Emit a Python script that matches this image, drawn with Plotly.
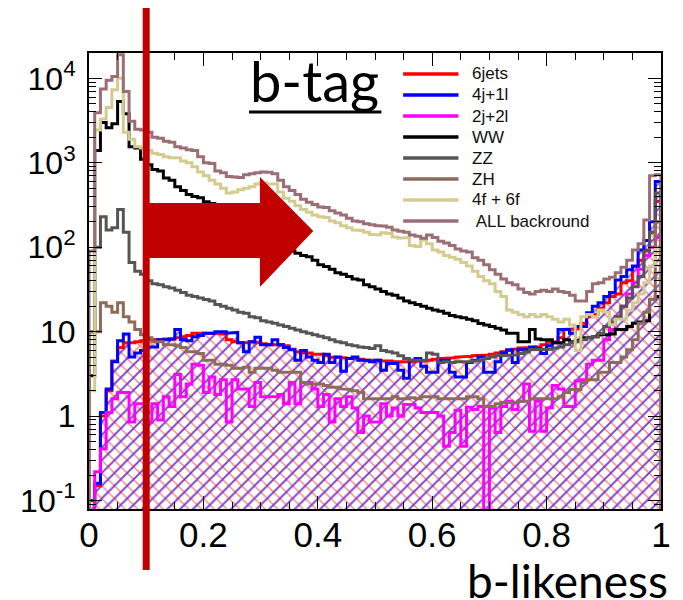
import numpy as np
import plotly.graph_objects as go

# 100 bins of b-likeness in [0, 1]
edges = np.round(np.linspace(0.0, 1.0, 101), 3)

six_jets = [0.05, 0.15, 1.0, 2.0, 4.5, 6.5, 7.4, 7.4, 7.6, 7.8,
            8.0, 8.0, 8.0, 8.2, 8.2, 8.5, 8.7, 9.0, 9.6, 9.6,
            9.6, 9.6, 9.6, 9.4, 8.0, 7.6, 7.4, 7.4, 7.6, 7.4,
            7.2, 7.0, 7.0, 7.0, 6.8, 6.2, 5.8, 5.6, 5.6, 5.4,
            5.4, 5.2, 5.0, 5.0, 4.9, 4.8, 4.8, 4.7, 4.6, 4.6,
            4.6, 4.5, 4.5, 4.4, 4.4, 4.4, 4.4, 4.5, 4.5, 4.6,
            4.7, 4.8, 4.8, 4.9, 5.0, 5.0, 5.1, 5.2, 5.3, 5.3,
            5.4, 5.6, 5.8, 6.0, 6.2, 6.4, 6.4, 6.5, 6.6, 7.0,
            7.5, 7.6, 8.5, 10.6, 10.6, 10.8, 12.6, 15, 16, 19,
            22, 26, 28, 38, 40, 59, 70, 93, 150, 350]

four_j_one_l = [0.1, 0.16, 1.1, 2.1, 4.4, 7.8, 9.4, 5.0, 5.6, 6.0,
                6.6, 6.6, 8.0, 8.0, 8.2, 10.6, 8.0, 7.8, 8.7, 9.0,
                9.6, 9.6, 10.0, 10.0, 9.6, 9.8, 7.4, 5.8, 7.6, 8.6,
                7.0, 7.0, 8.0, 7.0, 6.5, 6.1, 4.6, 6.0, 5.0, 4.6,
                4.3, 5.4, 4.3, 5.0, 3.4, 4.8, 5.0, 4.6, 4.6, 4.4,
                4.6, 3.5, 4.2, 4.2, 3.5, 2.8, 4.6, 4.8, 3.9, 3.3,
                3.3, 4.6, 4.6, 3.3, 2.9, 2.9, 4.3, 4.6, 5.0, 3.3,
                3.3, 4.4, 5.6, 6.1, 4.3, 6.1, 6.1, 6.6, 6.3, 5.5,
                6.8, 7.4, 10.6, 10.6, 9.6, 11.5, 11.5, 16.7, 20, 22,
                26, 29, 41, 45, 54, 60, 93, 120, 200, 600]

two_j_two_l = [0.05, 0.22, 0.41, 1.1, 1.6, 1.9, 1.9, 0.85, 1.4, 1.4,
               0.85, 1.4, 0.9, 1.7, 1.3, 3.1, 1.7, 2.4, 4.1, 4.0,
               1.9, 2.9, 1.8, 2.7, 0.85, 2.7, 2.1, 2.1, 1.3, 2.5,
               1.7, 1.7, 1.7, 1.8, 1.4, 2.5, 1.4, 2.5, 2.5, 2.1,
               1.3, 1.8, 0.85, 1.6, 1.3, 1.7, 1.25, 0.64, 1.0, 0.85,
               0.85, 1.4, 1.0, 1.25, 1.0, 1.37, 1.37, 1.25, 1.1, 1.1,
               1.1, 1.0, 0.44, 0.64, 1.17, 0.44, 1.27, 1.2, 1.3, 0.01,
               1.25, 0.64, 1.3, 1.5, 1.2, 1.5, 2.4, 0.66, 1.5, 0.66,
               1.25, 2.3, 2.1, 1.3, 1.3, 2.6, 2.7, 4.1, 4.6, 4.6,
               8, 10.6, 15, 20, 28, 38, 55, 80, 100, 130]

ww = [3, 1400, 3000, 2600, 2900, 5300, 3800, 1550, 1500, 1100,
      950, 830, 800, 660, 620, 520, 470, 420, 400, 385,
      345, 330, 300, 280, 250, 230, 210, 190, 170, 150,
      140, 125, 115, 100, 95, 90, 85, 80, 77, 70,
      62, 59, 55, 50, 48, 45, 42, 41, 36, 34,
      32, 30, 28, 27, 25, 23, 22, 21, 20, 19,
      18, 17.5, 16.5, 15.5, 15, 14.6, 14, 13.5, 12.5, 12,
      11.5, 11, 10.5, 9.6, 9.6, 7.6, 7.6, 10.6, 8.2, 8,
      8, 7.4, 7.4, 8, 7.6, 7.8, 8.5, 8.5, 8.7, 9.2,
      9.2, 9.4, 10.6, 10.6, 11.5, 12.6, 13, 13.5, 24, 26]

zz = [10, 100, 230, 160, 170, 280, 150, 66, 52, 48,
      40, 37, 36, 34, 33, 31, 29, 27, 26, 25,
      24, 23, 21, 20, 19, 18, 17, 16.5, 15, 14.6,
      13.5, 13, 12.6, 12, 11.5, 11, 10.5, 10, 9.6, 9.2,
      8.8, 8.5, 8, 7.6, 7.4, 7, 6.8, 6.6, 6.5, 6.3,
      6.8, 6, 5.8, 5.6, 5.2, 4.8, 4.6, 4.6, 4.6, 5.6,
      5.4, 4.3, 4.4, 4.3, 4.4, 4.4, 4.4, 4.5, 4.6, 4.8,
      5.0, 5.2, 5.3, 5.2, 5.3, 5.5, 5.8, 6.1, 6.1, 6.1,
      6.2, 6.4, 6.6, 7.0, 7.4, 7.6, 8.0, 8.5, 8.7, 9.5,
      11.5, 13, 15, 20, 25, 34, 45, 90, 150, 440]

zh = [10, 10, 22, 20, 17, 22, 15, 13, 10.6, 9.2,
      8.5, 7.6, 7.6, 7, 7, 6.8, 6.5, 5.8, 5.8, 5.5,
      4.6, 4.6, 4.1, 4.1, 4.0, 3.7, 3.7, 3.8, 3.3, 3.7,
      3.7, 3.7, 3.5, 3.3, 3.3, 3.3, 3.3, 2.5, 2.4, 2.4,
      2.4, 2.3, 2.2, 2.2, 2.1, 2.06, 2.0, 1.9, 1.6, 1.6,
      1.6, 1.6, 1.6, 1.7, 1.6, 1.6, 1.65, 1.6, 1.7, 1.7,
      1.7, 1.6, 1.6, 1.6, 1.6, 1.6, 1.7, 1.7, 1.6, 1.3,
      1.3, 1.4, 1.45, 1.45, 1.45, 1.5, 1.5, 1.6, 1.6, 1.6,
      1.6, 1.6, 1.7, 1.9, 2.06, 2.06, 2.5, 2.7, 2.7, 3.3,
      3.3, 4.3, 4.3, 5, 6.1, 8, 12.6, 17, 24, 200]

four_six_f = [2, 2450, 3300, 4500, 7300, 10000, 2300, 1900, 1550, 1500,
              1400, 1300, 1250, 1180, 1150, 1150, 1050, 1000, 900, 780,
              700, 620, 560, 500, 440, 450, 480, 500, 520, 560,
              580, 560, 560, 450, 380, 350, 310, 280, 260, 240,
              230, 225, 205, 195, 180, 170, 160, 158, 150, 142,
              140, 148, 145, 132, 128, 130, 105, 102, 122, 110,
              93, 88, 80, 76, 72, 66, 60, 52, 45, 40,
              37, 30, 26, 18, 17, 16, 15, 16, 15, 16,
              15, 14, 13, 14, 12, 6, 15, 16, 15, 18,
              17, 12, 14, 14, 18, 22, 28, 38, 60, 95]

all_bkg = [90, 3900, 7500, 9500, 10500, 19000, 7000, 3100, 2500, 2450,
           2300, 2000, 1950, 1800, 1750, 1550, 1500, 1430, 1400, 1180,
           1000, 980, 800, 760, 690, 680, 670, 720, 740, 760,
           780, 770, 740, 620, 520, 470, 420, 370, 340, 320,
           300, 295, 270, 255, 240, 220, 205, 200, 190, 185,
           180, 178, 172, 160, 155, 150, 140, 135, 128, 140,
           130, 118, 112, 105, 95, 90, 88, 75, 70, 62,
           54, 48, 42, 38, 36, 32, 29, 28, 30, 31,
           30, 32, 30, 29, 27, 23, 23, 30, 37, 38,
           42, 44, 50, 58, 70, 93, 110, 210, 700, 720]

names = ["6jets", "4j+1l", "2j+2l", "WW", "ZZ", "ZH", "4f + 6f", " ALL backround"]
colors = ["#ff0000", "#0000ff", "#ff00ff", "#000000", "#555555",
          "#8c6b58", "#d4cb8e", "#9b6e75"]
series = [six_jets, four_j_one_l, two_j_two_l, ww, zz, zh, four_six_f, all_bkg]

FLOOR = 1e-3  # below the visible range, closes each histogram at the bottom
CUT_X = 0.1
X_RANGE = (0.0, 1.0)
Y_RANGE = (-1.1, 4.3)
HELV = "Liberation Sans, Arial, Helvetica, sans-serif"


def steps(vals):
    xs, ys = [edges[0]], [FLOOR]
    for i, v in enumerate(vals):
        xs += [edges[i], edges[i + 1]]
        ys += [v, v]
    xs.append(edges[-1])
    ys.append(FLOOR)
    return xs, ys


fig = go.Figure()

# hatched signal areas
for vals, col, shape, sol in [(six_jets, "#ff0000", "x", 0.28),
                              (four_j_one_l, "#0000ff", "/", 0.22)]:
    xs, ys = steps(vals)
    fig.add_trace(go.Scatter(
        x=xs, y=ys, mode="lines", fill="toself",
        fillcolor="rgba(0,0,0,0)",
        fillpattern=dict(shape=shape, fgcolor=col, bgcolor="rgba(0,0,0,0)",
                         size=9, solidity=sol),
        line=dict(width=0), hoverinfo="skip", showlegend=False))

# histogram outlines
for name, col, vals in zip(names, colors, series):
    xs, ys = steps(vals)
    fig.add_trace(go.Scatter(
        x=xs, y=ys, mode="lines", name=name.strip(),
        line=dict(color=col, width=3), showlegend=False))

# plot area in pixels
L, R, T, B = 89, 15, 53, 91
W, H = 683 - L - R, 600 - T - B


def px(x):
    return (x - L) / W


def py(y):
    return (600 - B - y) / H


shapes = []
annotations = []

# legend
leg_y = [74, 95, 116, 137, 158, 179, 200, 221]
for name, col, yy in zip(names, colors, leg_y):
    shapes.append(dict(type="line", xref="paper", yref="paper",
                       x0=px(407), x1=px(463), y0=py(yy), y1=py(yy),
                       line=dict(color=col, width=3.5)))
    annotations.append(dict(xref="paper", yref="paper", x=px(475), y=py(yy),
                            text=name, showarrow=False, xanchor="left",
                            yanchor="middle",
                            font=dict(family=HELV, size=17, color="#111111")))

# cut line at b-likeness = 0.1
cut_paper = (CUT_X - X_RANGE[0]) / (X_RANGE[1] - X_RANGE[0])
shapes.append(dict(type="line", xref="paper", yref="paper",
                   x0=cut_paper, x1=cut_paper, y0=py(570), y1=py(8),
                   line=dict(color="#c00000", width=7)))

# selection arrow
arrow = [(146, 203), (262, 203), (262, 177), (316, 231),
         (262, 287), (262, 258), (146, 258)]
path = "M " + " L ".join(f"{px(a):.4f},{py(b):.4f}" for a, b in arrow) + " Z"
shapes.append(dict(type="path", xref="paper", yref="paper", path=path,
                   fillcolor="#c00000", line=dict(width=0)))

# b-tag title with underline
annotations.append(dict(xref="paper", yref="paper", x=px(250), y=py(80),
                        text="b-tag", showarrow=False, xanchor="left",
                        yanchor="middle",
                        font=dict(family="Lato", size=56, color="black")))
shapes.append(dict(type="line", xref="paper", yref="paper",
                   x0=px(251), x1=px(385), y0=py(112), y1=py(112),
                   line=dict(color="black", width=3)))

# x-axis title
annotations.append(dict(xref="paper", yref="paper", x=px(676), y=py(580),
                        text="b-likeness", showarrow=False, xanchor="right",
                        yanchor="middle", borderpad=0,
                        font=dict(family="Lato", size=46, color="black")))

x_ticks = [0, 0.2, 0.4, 0.6, 0.8, 1]
x_labels = ["0", "0.2", "0.4", "0.6", "0.8", "1"]
y_ticks = [0.1, 1, 10, 100, 1000, 10000]
y_labels = ["10<sup>-1</sup>", "1", "10", "10<sup>2</sup>", "10<sup>3</sup>",
            "10<sup>4</sup>"]
y_minor = [m * 10.0 ** d for d in range(-2, 5) for m in range(2, 10)]

fig.update_layout(
    width=683, height=600,
    margin=dict(l=L, r=R, t=T, b=B),
    paper_bgcolor="white", plot_bgcolor="white",
    showlegend=False,
    shapes=shapes, annotations=annotations,
    xaxis=dict(range=list(X_RANGE), showgrid=False, zeroline=False,
               showline=True, linecolor="black", linewidth=2,
               mirror="allticks", ticks="inside", ticklen=13, tickwidth=1.3,
               tickcolor="black", tickvals=x_ticks, ticktext=x_labels,
               tickfont=dict(family=HELV, size=35, color="black"),
               ticklabelstandoff=-6,
               minor=dict(tickmode="linear", tick0=0, dtick=0.05, ticks="inside",
                          ticklen=7, tickwidth=1.1, tickcolor="black",
                          showgrid=False)),
    yaxis=dict(type="log", range=list(Y_RANGE), showgrid=False, zeroline=False,
               showline=True, linecolor="black", linewidth=2,
               mirror="allticks", ticks="inside", ticklen=13, tickwidth=1.3,
               tickcolor="black", tickvals=y_ticks, ticktext=y_labels,
               tickfont=dict(family=HELV, size=32, color="black"),
               ticklabelstandoff=5,
               minor=dict(tickmode="array", tickvals=y_minor, ticks="inside",
                          ticklen=7, tickwidth=1.1, tickcolor="black",
                          showgrid=False)),
)

fig.write_html("out.html")
